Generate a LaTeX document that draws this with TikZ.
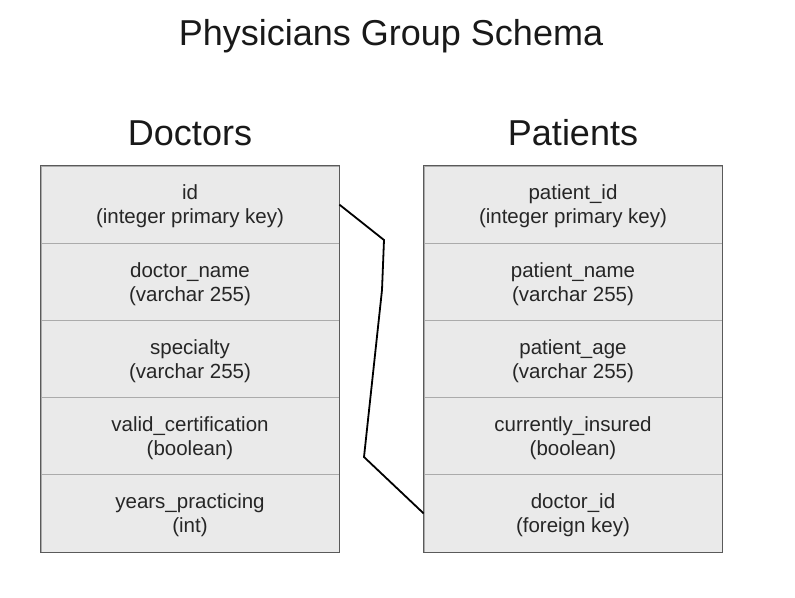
\documentclass[tikz,border=0pt]{standalone}
\usepackage{fontspec}
\setmainfont{Liberation Sans}
\definecolor{rowfill}{HTML}{EAEAEA}
\definecolor{sepgray}{HTML}{ABABAB}
\definecolor{bordergray}{HTML}{5A5A5A}
\newcommand\rowstrut{\rule{0pt}{19pt}}
\begin{document}
\begin{tikzpicture}[x=1pt,y=-1pt,
  rowbox/.style={draw=sepgray, line width=0.8pt, fill=rowfill, minimum width=298pt, minimum height=77.2pt, inner sep=0pt, align=center, font=\fontsize{20.5}{24}\selectfont, text=black!85},
  heading/.style={font=\fontsize{36}{40}\selectfont, text=black!90},
  tableframe/.style={draw=bordergray, line width=1.4pt},
  link/.style={draw=black, line width=1.8pt, line join=miter}]
\useasboundingbox[fill=white] (0,0) rectangle (795,597);
\node[heading] (title) at (391,36) {Physicians Group Schema};
\node[heading] (dochead) at (190,133) {Doctors};
\node[heading] (pathead) at (573,133) {Patients};
% Doctors
\node[rowbox] (d1) at (190,204.6) {\rowstrut id\\(integer primary key)};
\node[rowbox] (d2) at (190,281.8) {\rowstrut doctor\_name\\(varchar 255)};
\node[rowbox] (d3) at (190,359.0) {\rowstrut specialty\\(varchar 255)};
\node[rowbox] (d4) at (190,436.2) {\rowstrut valid\_certification\\(boolean)};
\node[rowbox] (d5) at (190,513.4) {\rowstrut years\_practicing\\(int)};
\draw[tableframe] (d1.north west) rectangle (d5.south east);
% Patients
\node[rowbox] (p1) at (573,204.6) {\rowstrut patient\_id\\(integer primary key)};
\node[rowbox] (p2) at (573,281.8) {\rowstrut patient\_name\\(varchar 255)};
\node[rowbox] (p3) at (573,359.0) {\rowstrut patient\_age\\(varchar 255)};
\node[rowbox] (p4) at (573,436.2) {\rowstrut currently\_insured\\(boolean)};
\node[rowbox] (p5) at (573,513.4) {\rowstrut doctor\_id\\(foreign key)};
\draw[tableframe] (p1.north west) rectangle (p5.south east);
% connector
\coordinate (b1) at (384,240);
\coordinate (b2) at (382,290);
\coordinate (b3) at (364,457);
\draw[link] (d1.east) -- (b1) -- (b2) -- (b3) -- (p5.west);
\end{tikzpicture}
\end{document}
